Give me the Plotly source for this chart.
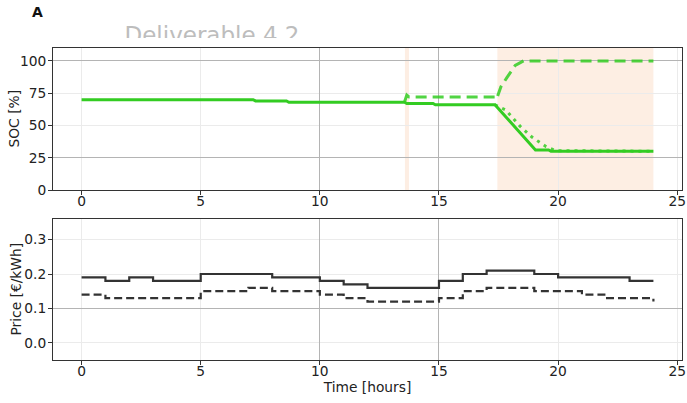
import plotly.graph_objects as go

W, H = 687, 403

# ---------------- data ----------------
soc_t = [0, 7.2, 7.3, 8.6, 8.7, 13.55, 13.65, 14.75, 14.85, 17.35, 19.05, 19.6, 19.7, 24]
soc = [70, 70, 69, 69, 68, 68, 67, 67, 66, 66, 31, 31, 30, 30]

soc_target_t = [13.55, 13.65, 13.75, 17.35, 17.42, 17.6, 17.85, 18.2, 18.55, 24]
soc_target = [68, 73.5, 72, 72, 70.5, 80, 87, 96.5, 100, 100]

soc_alt_t = [17.35, 17.8, 18.4, 18.9, 19.5, 19.9, 24]
soc_alt = [66, 62, 49.5, 41, 33.5, 30.5, 30]

hours = list(range(25))
price_buy = [0.19, 0.18, 0.19, 0.18, 0.18, 0.20, 0.20, 0.20, 0.19, 0.19, 0.18, 0.17, 0.16,
             0.16, 0.16, 0.18, 0.20, 0.21, 0.21, 0.20, 0.19, 0.19, 0.19, 0.18, 0.18]
price_sell = [0.14, 0.13, 0.13, 0.13, 0.13, 0.15, 0.15, 0.16, 0.15, 0.15, 0.14, 0.13, 0.12,
              0.12, 0.12, 0.13, 0.15, 0.16, 0.16, 0.15, 0.15, 0.14, 0.13, 0.13, 0.12]

band_start = [13.57, 17.45]
band_end = [13.74, 24.0]

x_ticks = [0, 5, 10, 15, 20, 25]
x_dark_grid = [10, 15]
soc_ticks = [0, 25, 50, 75, 100]
soc_dark_grid = [25, 100]
price_ticks = [0.0, 0.1, 0.2, 0.3]
price_tick_text = ["0.0", "0.1", "0.2", "0.3"]
price_dark_grid = [0.1]

soc_label = "SOC [%]"
price_label = "Price [€/kWh]"
time_label = "Time [hours]"
watermark = "Deliverable 4.2"
panel_label = "A"

# ---------------- helpers ----------------
def px_x(p):
    return p / W


def px_y(p):
    return 1 - p / H


FONT = dict(family="DejaVu Sans", size=13.8, color="#222222")
GREEN = "#33cc22"
GREEN_A = "rgba(51,204,34,0.85)"
DARK = "#333333"
LIGHT_GRID = "#ebebeb"
DARK_GRID = "#b4b4b4"
XDOM = [px_x(53), px_x(682)]
TOP_DOM = [px_y(190), px_y(48)]
BOT_DOM = [px_y(360), px_y(219)]
XR = [-1.2, 25.2]
SOC_R = [0, 110]
PRICE_R = [-0.05, 0.36]

fig = go.Figure()

# SOC traces
fig.add_trace(go.Scatter(x=soc_t, y=soc, mode="lines", line=dict(color=GREEN, width=3),
                         xaxis="x", yaxis="y", showlegend=False))
fig.add_trace(go.Scatter(x=soc_target_t, y=soc_target, mode="lines",
                         line=dict(color=GREEN_A, width=3, dash="11px,6px"),
                         xaxis="x", yaxis="y", showlegend=False))
fig.add_trace(go.Scatter(x=soc_alt_t, y=soc_alt, mode="lines",
                         line=dict(color=GREEN_A, width=3, dash="3px,5px"),
                         xaxis="x", yaxis="y", showlegend=False))

# Price traces
fig.add_trace(go.Scatter(x=hours, y=price_buy, mode="lines", line_shape="hv",
                         line=dict(color=DARK, width=2.2), xaxis="x2", yaxis="y2", showlegend=False))
fig.add_trace(go.Scatter(x=hours, y=price_sell, mode="lines", line_shape="hv",
                         line=dict(color=DARK, width=2.2, dash="8px,4px"),
                         xaxis="x2", yaxis="y2", showlegend=False))

# darker-grid overlay subplots (empty traces)
fig.add_trace(go.Scatter(x=[], y=[], xaxis="x4", yaxis="y4", showlegend=False))
fig.add_trace(go.Scatter(x=[], y=[], xaxis="x5", yaxis="y5", showlegend=False))

# watermark clipped at the top
fig.add_trace(go.Scatter(x=[212], y=[1.2], mode="text", text=[watermark],
                         textposition="middle center", cliponaxis=True,
                         textfont=dict(family="DejaVu Sans", size=23, color="#bdbdbd"),
                         xaxis="x3", yaxis="y3", showlegend=False, hoverinfo="skip"))

# shaded bands
for s, e in zip(band_start, band_end):
    fig.add_shape(type="rect", xref="x", yref="y domain", x0=s, x1=e, y0=0, y1=1,
                  fillcolor="#fdeee3", line=dict(width=0), layer="below")

common_x = dict(range=XR, tickvals=x_ticks, ticks="outside", ticklen=4, tickcolor=DARK,
                showline=True, linecolor=DARK, linewidth=1, mirror=True,
                showgrid=True, gridcolor=LIGHT_GRID, gridwidth=1, zeroline=False,
                tickfont=FONT, automargin=False, domain=XDOM, ticklabelstandoff=-6)
common_y = dict(ticks="outside", ticklen=4, tickcolor=DARK,
                showline=True, linecolor=DARK, linewidth=1, mirror=True,
                showgrid=True, gridcolor=LIGHT_GRID, gridwidth=1, zeroline=False,
                tickfont=FONT, automargin=False, ticklabelstandoff=-1)
overlay = dict(showticklabels=False, ticks="", showline=False, zeroline=False,
               showgrid=True, gridcolor=DARK_GRID, gridwidth=1, automargin=False)

fig.update_layout(
    width=W, height=H, template="none",
    margin=dict(l=0, r=0, t=0, b=0),
    paper_bgcolor="white", plot_bgcolor="white",
    font=FONT,
    xaxis=dict(anchor="y", **common_x),
    yaxis=dict(anchor="x", domain=TOP_DOM, range=SOC_R, tickvals=soc_ticks, **common_y),
    xaxis2=dict(anchor="y2",
                title=dict(text=time_label, font=FONT, standoff=0), **common_x),
    yaxis2=dict(anchor="x2", domain=BOT_DOM, range=PRICE_R, tickvals=price_ticks,
                ticktext=price_tick_text, **common_y),
    xaxis3=dict(domain=[0, 1], range=[0, W], visible=False, anchor="y3"),
    yaxis3=dict(domain=[px_y(38), 1], range=[0, 38], visible=False, anchor="x3"),
    xaxis4=dict(overlaying="x", anchor="y4", range=XR, tickvals=x_dark_grid, **overlay),
    yaxis4=dict(overlaying="y", anchor="x4", range=SOC_R, tickvals=soc_dark_grid, **overlay),
    xaxis5=dict(overlaying="x2", anchor="y5", range=XR, tickvals=x_dark_grid, **overlay),
    yaxis5=dict(overlaying="y2", anchor="x5", range=PRICE_R, tickvals=price_dark_grid, **overlay),
    annotations=[
        dict(text="<b>" + panel_label + "</b>", xref="paper", yref="paper",
             x=px_x(30), y=px_y(12), xanchor="left", yanchor="middle",
             showarrow=False, font=dict(family="DejaVu Sans", size=14, color="#111111")),
        dict(text=soc_label, xref="paper", yref="paper", x=px_x(13.5), y=px_y(119),
             xanchor="center", yanchor="middle", textangle=-90, showarrow=False, font=FONT),
        dict(text=price_label, xref="paper", yref="paper", x=px_x(15), y=px_y(289.5),
             xanchor="center", yanchor="middle", textangle=-90, showarrow=False, font=FONT),
    ],
)

fig.write_html("out.html", config={"displayModeBar": False},
               post_script="document.body.style.margin='0';document.body.style.overflow='hidden';")
